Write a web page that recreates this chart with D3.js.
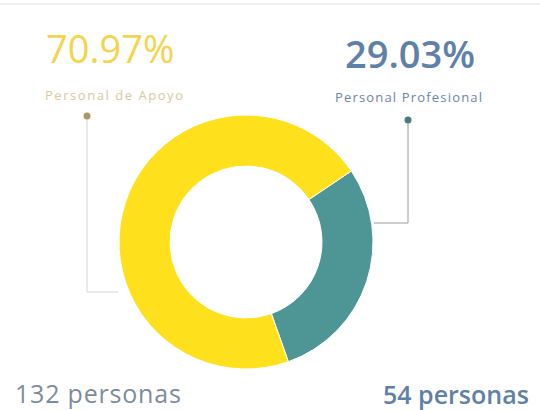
<!DOCTYPE html>
<html>
<head>
<meta charset="utf-8">
<script src="https://cdn.jsdelivr.net/npm/d3@7"></script>
<style>
  body { margin: 0; background: #fff; }
  svg { display: block; }
  text { font-family: "Open Sans", "Noto Sans", sans-serif; }
</style>
</head>
<body>
<svg></svg>
<script>
const width = 540, height = 410

// data
const categories = ["Personal Profesional", "Personal de Apoyo"]
const counts = [54, 132]
const percents = ["29.03%", "70.97%"]
const colors = ["#4e9595", "#ffe01c"]

const svg = d3.select("svg")
  .attr("width", width)
  .attr("height", height)

// faint scan lines on top edge
svg.append("line")
  .attr("x1", 0).attr("x2", width)
  .attr("y1", 4).attr("y2", 4)
  .attr("stroke", "#f0f0f0")
  .attr("stroke-width", 2)

const cx = 246, cy = 242
const outerR = 127, innerR = 76

const pie = d3.pie()
  .sort(null)
  .value(d => d)
  .startAngle(56 * Math.PI / 180)
  .endAngle(56 * Math.PI / 180 + 2 * Math.PI)

const arc = d3.arc().innerRadius(innerR).outerRadius(outerR)

const g = svg.append("g").attr("transform", `translate(${cx},${cy})`)

g.selectAll("path")
  .data(pie(counts))
  .join("path")
    .attr("d", arc)
    .attr("fill", (d, i) => colors[i])
    .attr("stroke", "#fff")
    .attr("stroke-width", 1)

// leader lines
const leaders = [
  {pts: [[408, 120], [408, 223], [374, 223]], stroke: "#9a9a9a", dot: "#4a7b82"},
  {pts: [[87, 116], [87, 292], [118, 292]], stroke: "#d6d6d6", dot: "#a89a62"}
]
const line = d3.line()
leaders.forEach(l => {
  svg.append("path")
    .attr("d", line(l.pts))
    .attr("fill", "none")
    .attr("stroke", l.stroke)
    .attr("stroke-width", 1)
  svg.append("circle")
    .attr("cx", l.pts[0][0]).attr("cy", l.pts[0][1])
    .attr("r", 3.5)
    .attr("fill", l.dot)
})

// percentage labels
svg.append("text")
  .attr("x", 46).attr("y", 63)
  .attr("font-size", 38)
  .attr("fill", "#f6d34c")
  .text(percents[1])

svg.append("text")
  .attr("x", 345).attr("y", 68)
  .attr("font-size", 38)
  .attr("font-weight", 600)
  .attr("fill", "#5f80a8")
  .text(percents[0])

svg.append("text")
  .attr("x", 45).attr("y", 100)
  .attr("font-size", 13)
  .attr("fill", "#d8c9a0")
  .attr("textLength", 138)
  .text(categories[1])

svg.append("text")
  .attr("x", 335).attr("y", 102)
  .attr("font-size", 13)
  .attr("fill", "#6b86aa")
  .attr("textLength", 147)
  .text(categories[0])

// count labels
svg.append("text")
  .attr("x", 15).attr("y", 403)
  .attr("font-size", 25)
  .attr("font-weight", 500)
  .attr("letter-spacing", 0.8)
  .attr("fill", "#7d8c9c")
  .text(`${counts[1]} personas`)

svg.append("text")
  .attr("x", 383).attr("y", 404)
  .attr("font-size", 25)
  .attr("font-weight", 600)
  .attr("fill", "#5f80a8")
  .text(`${counts[0]} personas`)
</script>
</body>
</html>
